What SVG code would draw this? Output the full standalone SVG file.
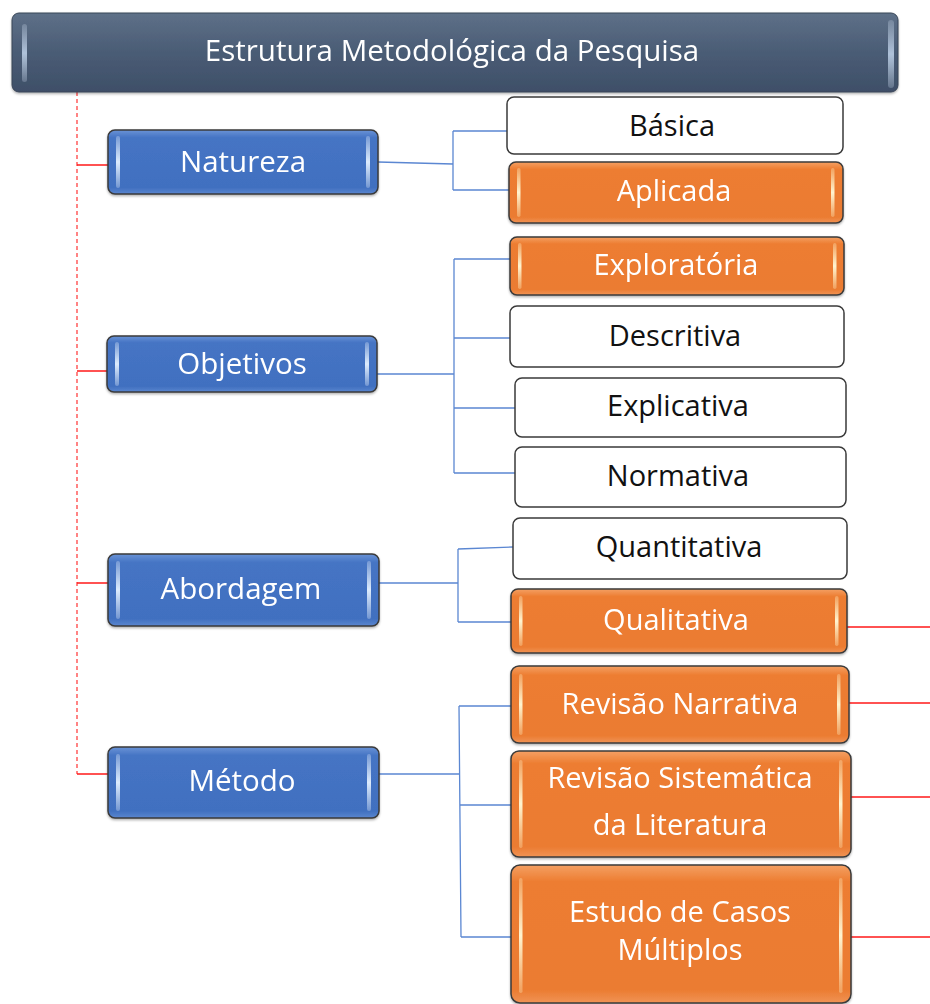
<svg xmlns="http://www.w3.org/2000/svg" width="930" height="1004" viewBox="0 0 930 1004">
  <defs>
    <linearGradient id="gTitle" x1="0" y1="0" x2="0" y2="1">
      <stop offset="0" stop-color="#5E7088"/>
      <stop offset="0.5" stop-color="#4A5C75"/>
      <stop offset="1" stop-color="#3E4F68"/>
    </linearGradient>
    <linearGradient id="gBlue" x1="0" y1="0" x2="0" y2="1">
      <stop offset="0" stop-color="#6A93D6"/>
      <stop offset="0.12" stop-color="#4574C4"/>
      <stop offset="0.9" stop-color="#4170C0"/>
      <stop offset="1" stop-color="#5A86CF"/>
    </linearGradient>
    <linearGradient id="gOrange" x1="0" y1="0" x2="0" y2="1">
      <stop offset="0" stop-color="#F4A064"/>
      <stop offset="0.12" stop-color="#ED7D31"/>
      <stop offset="0.9" stop-color="#EB7B30"/>
      <stop offset="1" stop-color="#F09355"/>
    </linearGradient>
    <linearGradient id="hlBlue" x1="0" y1="0" x2="0" y2="1">
      <stop offset="0" stop-color="#E4EFFC" stop-opacity="0.3"/>
      <stop offset="0.5" stop-color="#DCEBFD"/>
      <stop offset="1" stop-color="#E4EFFC" stop-opacity="0.3"/>
    </linearGradient>
    <linearGradient id="hlOrange" x1="0" y1="0" x2="0" y2="1">
      <stop offset="0" stop-color="#FFF3C8" stop-opacity="0.3"/>
      <stop offset="0.5" stop-color="#FFF4D0"/>
      <stop offset="1" stop-color="#FFF3C8" stop-opacity="0.3"/>
    </linearGradient>
    <linearGradient id="hlTitle" x1="0" y1="0" x2="0" y2="1">
      <stop offset="0" stop-color="#B8C8DC" stop-opacity="0.3"/>
      <stop offset="0.5" stop-color="#AFC2DA"/>
      <stop offset="1" stop-color="#B8C8DC" stop-opacity="0.3"/>
    </linearGradient>
    <filter id="shadow" x="-5%" y="-10%" width="110%" height="130%">
      <feDropShadow dx="0" dy="1.5" stdDeviation="1.2" flood-color="#000" flood-opacity="0.3"/>
    </filter>
  </defs>
  <style>
    .box { stroke: #3A3A3A; stroke-width: 1.5; }
    .title { fill: url(#gTitle); stroke: #3A4658; stroke-width: 1; }
    .blue { fill: url(#gBlue); }
    .orange { fill: url(#gOrange); }
    .white { fill: #FFFFFF; }
    .hb { fill: url(#hlBlue); }
    .ho { fill: url(#hlOrange); }
    .ht { fill: url(#hlTitle); }
    text { font-family: "Open Sans", "Noto Sans", "DejaVu Sans", sans-serif; text-anchor: middle; }
    .tw { fill: #FFFFFF; }
    .tb { fill: #111111; }
    .big { font-size: 29.5px; }
    .mid { font-size: 29.5px; }
    .leaf { font-size: 29px; }
    .blink { stroke: #5B87D2; stroke-width: 1.3; fill: none; }
    .rlink { stroke: #FF1A1A; stroke-width: 1.5; fill: none; }
    .rdash { stroke: #FF5050; stroke-width: 1.4; fill: none; stroke-dasharray: 4 3; }
  </style>

  <!-- connectors -->
  <g id="connectors">
    <!-- trunk from the title to the four categories -->
    <path class="rdash" d="M77 92 V774"/>
    <path class="rlink" d="M77 165 H108 M77 371 H107 M77 583 H108 M77 774 H108"/>
    <!-- Natureza -->
    <path class="blink" d="M378 162 L453 164 M453 131 V190 M453 131 H508 M453 190 H510"/>
    <!-- Objetivos -->
    <path class="blink" d="M377 374 H454 M454 259 V473 M454 259 H511 M454 338 H511 M454 408 H515 M454 473 H515"/>
    <!-- Abordagem -->
    <path class="blink" d="M379 583 H458 M458 549 V622 M458 549 L513 547 M458 622 H511"/>
    <!-- Método -->
    <path class="blink" d="M379 774 H459 M459 706 L461 937 M459 706 H511 M460 805 H511 M461 937 H511"/>
    <!-- outgoing links on the right -->
    <path class="rlink" d="M843 627 H930 M849 703 H930 M851 797 H930 M851 937 H930"/>
  </g>

  <!-- title -->
  <g id="node-title" filter="url(#shadow)">
    <rect class="title" x="12" y="13" width="886" height="79" rx="7"/>
    <rect class="ht" x="22" y="24" width="5" height="58" rx="2.5"/>
    <rect class="ht" x="888" y="20" width="6" height="68" rx="3"/>
    <text class="tw big" x="452" y="61">Estrutura Metodológica da Pesquisa</text>
  </g>

  <!-- categories -->
  <g id="node-natureza" filter="url(#shadow)">
    <rect class="box blue" x="108" y="130" width="270" height="64" rx="7"/>
    <rect class="hb" x="116" y="136" width="4" height="52" rx="2"/>
    <rect class="hb" x="366" y="136" width="4" height="52" rx="2"/>
    <text class="tw mid" x="243" y="172">Natureza</text>
  </g>
  <g id="node-objetivos" filter="url(#shadow)">
    <rect class="box blue" x="107" y="336" width="270" height="56" rx="7"/>
    <rect class="hb" x="115" y="342" width="4" height="44" rx="2"/>
    <rect class="hb" x="365" y="342" width="4" height="44" rx="2"/>
    <text class="tw mid" x="242" y="374">Objetivos</text>
  </g>
  <g id="node-abordagem" filter="url(#shadow)">
    <rect class="box blue" x="108" y="554" width="271" height="72" rx="7"/>
    <rect class="hb" x="116" y="561" width="4" height="58" rx="2"/>
    <rect class="hb" x="367" y="561" width="4" height="58" rx="2"/>
    <text class="tw mid" x="241" y="599">Abordagem</text>
  </g>
  <g id="node-metodo" filter="url(#shadow)">
    <rect class="box blue" x="108" y="747" width="271" height="71" rx="7"/>
    <rect class="hb" x="116" y="754" width="4" height="57" rx="2"/>
    <rect class="hb" x="367" y="754" width="4" height="57" rx="2"/>
    <text class="tw mid" x="242" y="791">Método</text>
  </g>

  <!-- Natureza options -->
  <g id="node-basica">
    <rect class="box white" x="507" y="97" width="336" height="57" rx="7"/>
    <text class="tb leaf" x="672" y="136">Básica</text>
  </g>
  <g id="node-aplicada" filter="url(#shadow)">
    <rect class="box orange" x="509" y="162" width="334" height="61" rx="7"/>
    <rect class="ho" x="517" y="168" width="3.5" height="49" rx="1.7"/>
    <rect class="ho" x="831" y="168" width="3.5" height="49" rx="1.7"/>
    <text class="tw leaf" x="674" y="201">Aplicada</text>
  </g>

  <!-- Objetivos options -->
  <g id="node-exploratoria" filter="url(#shadow)">
    <rect class="box orange" x="510" y="237" width="334" height="58" rx="7"/>
    <rect class="ho" x="518" y="243" width="3.5" height="46" rx="1.7"/>
    <rect class="ho" x="833" y="243" width="3.5" height="46" rx="1.7"/>
    <text class="tw leaf" x="676" y="275">Exploratória</text>
  </g>
  <g id="node-descritiva">
    <rect class="box white" x="510" y="306" width="334" height="61" rx="7"/>
    <text class="tb leaf" x="675" y="346">Descritiva</text>
  </g>
  <g id="node-explicativa">
    <rect class="box white" x="515" y="378" width="331" height="59" rx="7"/>
    <text class="tb leaf" x="678" y="416">Explicativa</text>
  </g>
  <g id="node-normativa">
    <rect class="box white" x="515" y="447" width="331" height="60" rx="7"/>
    <text class="tb leaf" x="678" y="486">Normativa</text>
  </g>

  <!-- Abordagem options -->
  <g id="node-quantitativa">
    <rect class="box white" x="513" y="518" width="334" height="61" rx="7"/>
    <text class="tb leaf" x="679" y="557">Quantitativa</text>
  </g>
  <g id="node-qualitativa" filter="url(#shadow)">
    <rect class="box orange" x="511" y="589" width="336" height="64" rx="7"/>
    <rect class="ho" x="519" y="596" width="3.5" height="50" rx="1.7"/>
    <rect class="ho" x="835" y="596" width="3.5" height="50" rx="1.7"/>
    <text class="tw leaf" x="676" y="630">Qualitativa</text>
  </g>

  <!-- Método options -->
  <g id="node-revisao-narrativa" filter="url(#shadow)">
    <rect class="box orange" x="511" y="666" width="338" height="77" rx="8"/>
    <rect class="ho" x="519" y="674" width="3.5" height="61" rx="1.7"/>
    <rect class="ho" x="837" y="674" width="3.5" height="61" rx="1.7"/>
    <text class="tw leaf" x="680" y="714">Revisão Narrativa</text>
  </g>
  <g id="node-revisao-sistematica" filter="url(#shadow)">
    <rect class="box orange" x="511" y="751" width="340" height="106" rx="8"/>
    <rect class="ho" x="519" y="760" width="3.5" height="88" rx="1.7"/>
    <rect class="ho" x="839" y="760" width="3.5" height="88" rx="1.7"/>
    <text class="tw leaf" x="680" y="788">Revisão Sistemática</text>
    <text class="tw leaf" x="680" y="835">da Literatura</text>
  </g>
  <g id="node-estudo-casos" filter="url(#shadow)">
    <rect class="box orange" x="511" y="865" width="340" height="138" rx="9"/>
    <rect class="ho" x="519" y="878" width="3.5" height="115" rx="1.7"/>
    <rect class="ho" x="839" y="878" width="3.5" height="115" rx="1.7"/>
    <text class="tw leaf" x="680" y="922">Estudo de Casos</text>
    <text class="tw leaf" x="680" y="960">Múltiplos</text>
  </g>
</svg>
